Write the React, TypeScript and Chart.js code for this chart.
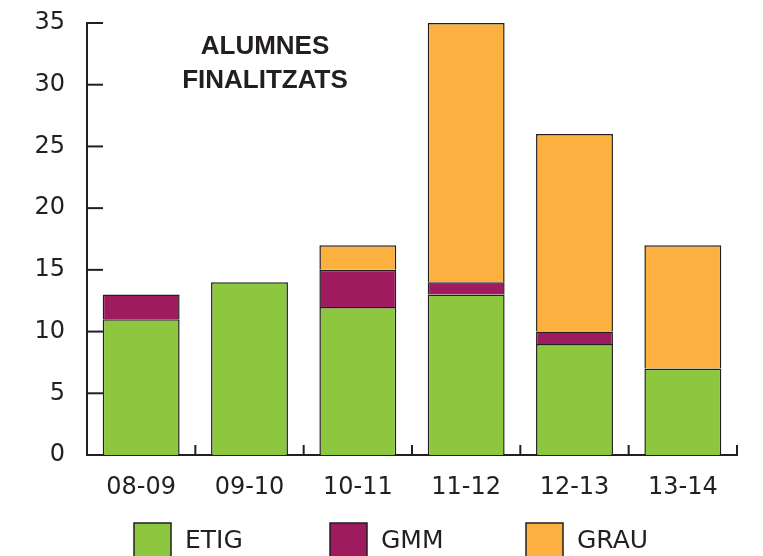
import React, { useEffect, useRef } from "react";
import { Chart, registerables } from "chart.js";

Chart.register(...registerables);

const categories = ["08-09", "09-10", "10-11", "11-12", "12-13", "13-14"];
const etigValues = [11, 14, 12, 13, 9, 7];
const gmmValues = [2, 0, 3, 1, 1, 0];
const grauValues = [0, 0, 2, 21, 16, 10];
const seriesLabels = ["ETIG", "GMM", "GRAU"];
const seriesColors = ["#8DC63F", "#9E1B5D", "#FBB040"];
const titleLines = ["ALUMNES", "FINALITZATS"];
const yMax = 35;
const yStep = 5;

const INK = "#231F20";
const FONT = "'DejaVu Sans', 'Liberation Sans', Arial, sans-serif";
const TITLE_FONT = "'Liberation Sans', Arial, Helvetica, sans-serif";

const innerTicksPlugin = {
  id: "innerTicks",
  afterDatasetsDraw(chart: any) {
    const { ctx, chartArea, scales } = chart;
    const x = scales.x;
    const y = scales.y;
    ctx.save();
    ctx.strokeStyle = INK;
    ctx.lineWidth = 2;
    y.ticks.forEach((t: any) => {
      const py = y.getPixelForValue(t.value);
      ctx.beginPath();
      ctx.moveTo(chartArea.left, py);
      ctx.lineTo(chartArea.left + 16, py);
      ctx.stroke();
    });
    const n = categories.length;
    const half = (x.getPixelForValue(1) - x.getPixelForValue(0)) / 2;
    for (let i = 0; i <= n; i++) {
      const px = i < n ? x.getPixelForValue(i) - half : x.getPixelForValue(n - 1) + half;
      ctx.beginPath();
      ctx.moveTo(px, chartArea.bottom);
      ctx.lineTo(px, chartArea.bottom - 10);
      ctx.stroke();
    }
    ctx.restore();
  },
};

const titlePlugin = {
  id: "insideTitle",
  afterDraw(chart: any) {
    const { ctx, chartArea } = chart;
    ctx.save();
    ctx.fillStyle = INK;
    ctx.font = `bold 26px ${TITLE_FONT}`;
    ctx.textAlign = "center";
    ctx.textBaseline = "middle";
    titleLines.forEach((line, i) => {
      ctx.fillText(line, chartArea.left + 178, chartArea.top + 24 + i * 34);
    });
    ctx.restore();
  },
};

const legendPlugin = {
  id: "customLegend",
  afterDraw(chart: any) {
    const { ctx, chartArea } = chart;
    ctx.save();
    ctx.font = `25px ${FONT}`;
    ctx.textBaseline = "middle";
    ctx.textAlign = "left";
    chart.data.datasets.forEach((ds: any, i: number) => {
      const bx = chartArea.left + 47 + i * 196;
      const by = chartArea.bottom + 68;
      ctx.fillStyle = ds.backgroundColor;
      ctx.fillRect(bx, by, 37, 37);
      ctx.strokeStyle = INK;
      ctx.lineWidth = 1.5;
      ctx.strokeRect(bx, by, 37, 37);
      ctx.fillStyle = INK;
      ctx.fillText(ds.label, bx + 51, by + 18);
    });
    ctx.restore();
  },
};

export default function App() {
  const canvasRef = useRef<HTMLCanvasElement | null>(null);

  useEffect(() => {
    if (!canvasRef.current) return;
    const seriesData = [etigValues, gmmValues, grauValues];
    const chart = new Chart(canvasRef.current, {
      type: "bar",
      data: {
        labels: categories,
        datasets: seriesLabels.map((label, i) => ({
          label,
          data: seriesData[i],
          backgroundColor: seriesColors[i],
          borderColor: INK,
          borderWidth: 1.5,
          categoryPercentage: 1,
          barPercentage: 0.71,
        })),
      },
      options: {
        responsive: false,
        animation: false,
        layout: { padding: { left: 0, right: 26, top: 23, bottom: 60 } },
        plugins: {
          legend: { display: false },
          title: { display: false },
          tooltip: { enabled: false },
        },
        scales: {
          x: {
            stacked: true,
            grid: { display: false, drawTicks: false },
            border: { display: true, color: INK, width: 2 },
            ticks: { color: INK, font: { family: FONT, size: 24 }, padding: 18 },
            afterFit: (s: any) => {
              s.height = 60;
              s.paddingLeft = 0;
              s.paddingRight = 0;
            },
          },
          y: {
            stacked: true,
            min: 0,
            max: yMax,
            grid: { display: false, drawTicks: false },
            border: { display: true, color: INK, width: 2 },
            ticks: {
              stepSize: yStep,
              color: INK,
              font: { family: FONT, size: 24 },
              padding: 22,
            },
            afterFit: (s: any) => {
              s.width = 87;
              s.paddingTop = 0;
              s.paddingBottom = 0;
            },
          },
        },
      },
      plugins: [innerTicksPlugin, titlePlugin, legendPlugin],
    });
    return () => chart.destroy();
  }, []);

  return (
    <div
      style={{
        position: "fixed",
        left: 0,
        top: 0,
        width: 763,
        height: 556,
        overflow: "hidden",
        background: "#fff",
      }}
    >
      <canvas ref={canvasRef} width={763} height={575} style={{ display: "block" }} />
    </div>
  );
}
